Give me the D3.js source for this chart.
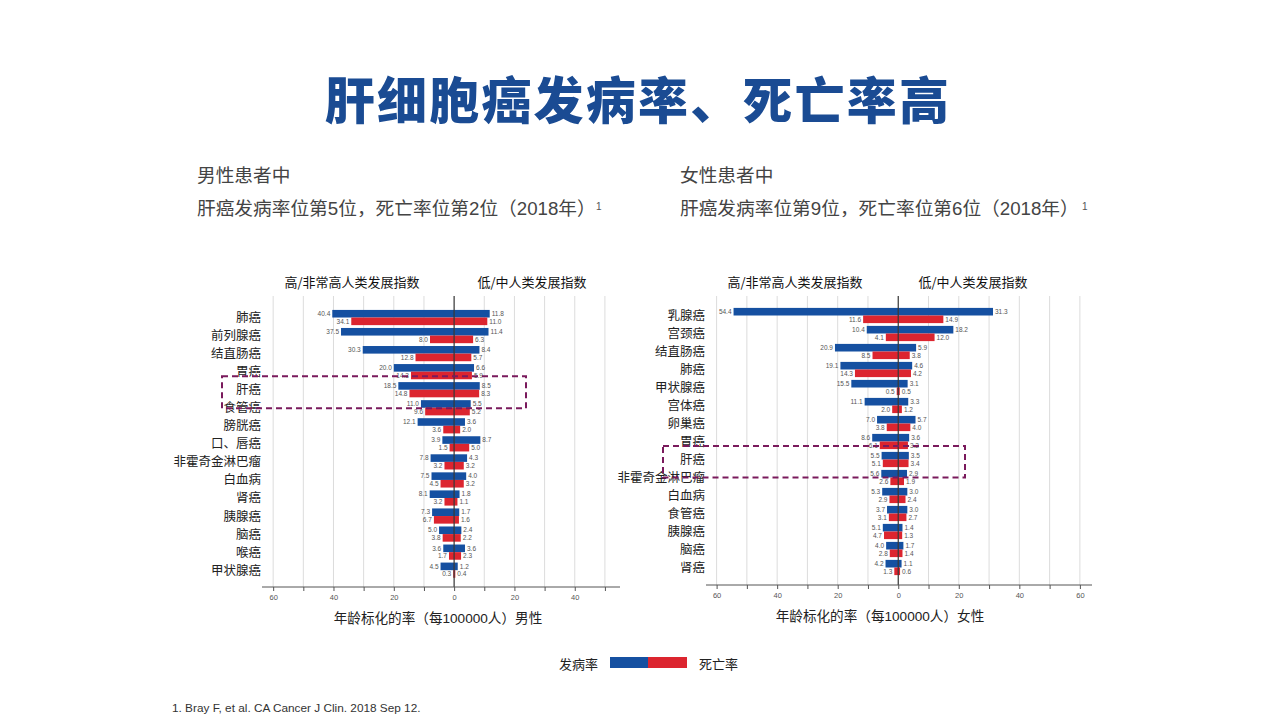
<!DOCTYPE html>
<html><head><meta charset="utf-8">
<script src="https://cdn.jsdelivr.net/npm/d3@7/dist/d3.min.js"></script>
<style>
html,body{margin:0;padding:0;background:#fff;}
svg{display:block;font-family:'Liberation Sans','Noto Sans CJK SC',sans-serif;}
</style></head>
<body><svg id="c" width="1280" height="720"></svg>
<script>
// ---------- data ----------
const maleCategories = ["肺癌","前列腺癌","结直肠癌","胃癌","肝癌","食管癌","膀胱癌","口、唇癌","非霍奇金淋巴瘤","白血病","肾癌","胰腺癌","脑癌","喉癌","甲状腺癌"];
const maleIncHigh  = [40.4,37.5,30.3,20.0,18.5,11.0,12.1,3.9,7.8,7.5,8.1,7.3,5.0,3.6,4.5];
const maleMortHigh = [34.1,8.0,12.8,14.3,14.8,9.6,3.6,1.5,3.2,4.5,3.2,6.7,3.8,1.7,0.3];
const maleIncLow   = [11.8,11.4,8.4,6.6,8.5,5.5,3.6,8.7,4.3,4.0,1.8,1.7,2.4,3.6,1.2];
const maleMortLow  = [11.0,6.3,5.7,5.9,8.3,5.2,2.0,5.0,3.2,3.2,1.1,1.6,2.2,2.3,0.4];

const femaleCategories = ["乳腺癌","宫颈癌","结直肠癌","肺癌","甲状腺癌","宫体癌","卵巢癌","胃癌","肝癌","非霍奇金淋巴瘤","白血病","食管癌","胰腺癌","脑癌","肾癌"];
const femaleIncHigh  = [54.4,10.4,20.9,19.1,15.5,11.1,7.0,8.6,5.5,5.6,5.3,3.7,5.1,4.0,4.2];
const femaleMortHigh = [11.6,4.1,8.5,14.3,0.5,2.0,3.8,6.1,5.1,2.6,2.9,3.1,4.7,2.8,1.3];
const femaleIncLow   = [31.3,18.2,5.9,4.6,3.1,3.3,5.7,3.6,3.5,2.9,3.0,3.0,1.4,1.7,1.1];
const femaleMortLow  = [14.9,12.0,3.8,4.2,0.5,1.2,4.0,3.2,3.4,1.9,2.4,2.7,1.3,1.4,0.6];

const maleTicks = [-60,-50,-40,-30,-20,-10,0,10,20,30,40,50];
const femaleTicks = [-60,-50,-40,-30,-20,-10,0,10,20,30,40,50,60];
const headerLeft = "高/非常高人类发展指数";
const headerRight = "低/中人类发展指数";

const BLUE = "#1550a1", RED = "#dc252f";
const svg = d3.select("#c");

// ---------- title & texts ----------
svg.append("text").attr("x",638).attr("y",119).attr("text-anchor","middle")
  .attr("font-family","'Noto Sans CJK SC'").attr("font-weight",900).attr("font-size",50)
  .attr("letter-spacing",2.2).attr("fill","#1a4b93").text("肝细胞癌发病率、死亡率高");

function subtitle(x, l1, l2, supX){
  svg.append("text").attr("x",x).attr("y",182).attr("font-size",18.7).attr("fill","#444").text(l1);
  svg.append("text").attr("x",x).attr("y",215).attr("font-size",18.7).attr("fill","#444").text(l2);
  svg.append("text").attr("x",supX).attr("y",210).attr("font-size",10).attr("fill","#555").text("1");
}
subtitle(197,"男性患者中","肝癌发病率位第5位，死亡率位第2位（2018年）",596);
subtitle(680,"女性患者中","肝癌发病率位第9位，死亡率位第6位（2018年）",1082);

// ---------- chart ----------
function chart(cfg){
  const g = svg.append("g");
  const x = d3.scaleLinear().domain(cfg.domain).range(cfg.xr);
  const y = d3.scaleBand().domain(cfg.cats).range(cfg.yr).padding(0);
  const bh = 7.6;
  // gridlines
  g.selectAll(".grid").data(cfg.ticks.filter(t=>t!==0)).join("line")
    .attr("x1",d=>x(d)).attr("x2",d=>x(d)).attr("y1",cfg.gridTop).attr("y2",cfg.axisY)
    .attr("stroke","#dcdcdc").attr("stroke-width",1);
  const rows = cfg.cats.map((c,i)=>({c, ih:cfg.ih[i], mh:cfg.mh[i], il:cfg.il[i], ml:cfg.ml[i]}));
  const cy = d=>y(d.c)+y.bandwidth()/2;
  // bars
  g.selectAll(".ih").data(rows).join("rect").attr("x",d=>x(-d.ih)).attr("width",d=>x(0)-x(-d.ih))
    .attr("y",d=>cy(d)-bh).attr("height",bh).attr("fill",BLUE);
  g.selectAll(".il").data(rows).join("rect").attr("x",x(0)).attr("width",d=>x(d.il)-x(0))
    .attr("y",d=>cy(d)-bh).attr("height",bh).attr("fill",BLUE);
  g.selectAll(".mh").data(rows).join("rect").attr("x",d=>x(-d.mh)).attr("width",d=>x(0)-x(-d.mh))
    .attr("y",d=>cy(d)).attr("height",bh).attr("fill",RED);
  g.selectAll(".ml").data(rows).join("rect").attr("x",x(0)).attr("width",d=>x(d.ml)-x(0))
    .attr("y",d=>cy(d)).attr("height",bh).attr("fill",RED);
  // value labels
  const vl = (sel, key, side, dy)=> sel.data(rows).join("text")
    .attr("x",d=> side<0 ? x(-d[key])-2 : x(d[key])+2)
    .attr("y",d=>cy(d)+dy).attr("text-anchor", side<0?"end":"start")
    .attr("font-size",6.5).attr("fill","#555").text(d=>d[key].toFixed(1));
  vl(g.selectAll(".tih"),"ih",-1,-1.6);
  vl(g.selectAll(".til"),"il",1,-1.6);
  vl(g.selectAll(".tmh"),"mh",-1,6);
  vl(g.selectAll(".tml"),"ml",1,6);
  // zero line
  g.append("line").attr("x1",x(0)).attr("x2",x(0)).attr("y1",cfg.gridTop).attr("y2",cfg.axisY)
    .attr("stroke","#333").attr("stroke-width",1.2);
  // category labels
  g.selectAll(".cat").data(cfg.cats).join("text").attr("x",cfg.labelX)
    .attr("y",d=>y(d)+y.bandwidth()/2+4.5).attr("text-anchor","end")
    .attr("font-family","'Noto Sans CJK SC'").attr("font-size",12.5).attr("fill","#222").text(d=>d);
  // axis
  const ax = d3.axisBottom(x).tickValues(cfg.ticks).tickSize(4).tickPadding(4)
    .tickFormat(d=> d%20===0 ? Math.abs(d) : "");
  const axg = g.append("g").attr("transform",`translate(0,${cfg.axisY})`).call(ax);
  axg.select(".domain").attr("stroke","#555").attr("d",`M${cfg.xr[0]},0H${cfg.xr[1]}`);
  axg.selectAll(".tick line").attr("stroke","#555");
  axg.selectAll(".tick text").attr("font-size",7.5).attr("fill","#555")
    .attr("font-family","'Liberation Sans',sans-serif");
  // headers
  g.append("text").attr("x",cfg.hl).attr("y",287).attr("text-anchor","middle")
    .attr("font-family","'Noto Sans CJK SC'").attr("font-size",13).attr("fill","#111").text(headerLeft);
  g.append("text").attr("x",cfg.hr).attr("y",287).attr("text-anchor","middle")
    .attr("font-family","'Noto Sans CJK SC'").attr("font-size",13).attr("fill","#111").text(headerRight);
  // axis title
  g.append("text").attr("x",cfg.titleX).attr("y",cfg.axisY+36).attr("text-anchor","middle")
    .attr("font-size",13.6).attr("fill","#222").text(cfg.axisTitle);
  // highlight box
  const hi = cfg.cats.indexOf("肝癌");
  const hy = y(cfg.cats[hi]);
  g.append("rect").attr("x",cfg.boxX[0]).attr("width",cfg.boxX[1]-cfg.boxX[0])
    .attr("y",hy+cfg.boxDy[0]).attr("height",cfg.boxDy[1]-cfg.boxDy[0])
    .attr("fill","none").attr("stroke","#7a1a5c").attr("stroke-width",2).attr("stroke-dasharray","6,4");
}

chart({cats:maleCategories, ih:maleIncHigh, mh:maleMortHigh, il:maleIncLow, ml:maleMortLow,
  domain:[-63.7,55], xr:[262,620], yr:[308.5,579.2], ticks:maleTicks, gridTop:296, axisY:587,
  labelX:261, hl:352, hr:532, titleX:438, axisTitle:"年龄标化的率（每100000人）男性",
  boxX:[222,526], boxDy:[-4.5,27.5]});
chart({cats:femaleCategories, ih:femaleIncHigh, mh:femaleMortHigh, il:femaleIncLow, ml:femaleMortLow,
  domain:[-63.5,64], xr:[706,1092], yr:[306.5,576.5], ticks:femaleTicks, gridTop:296, axisY:585,
  labelX:705, hl:795, hr:973, titleX:880, axisTitle:"年龄标化的率（每100000人）女性",
  boxX:[663,965], boxDy:[-4.5,27]});

// ---------- legend ----------
svg.append("text").attr("x",598).attr("y",669).attr("text-anchor","end").attr("font-family","'Noto Sans CJK SC'")
  .attr("font-size",13).attr("fill","#222").text("发病率");
svg.append("rect").attr("x",610).attr("y",657).attr("width",38).attr("height",11).attr("fill",BLUE);
svg.append("rect").attr("x",648).attr("y",657).attr("width",39).attr("height",11).attr("fill",RED);
svg.append("text").attr("x",699).attr("y",669).attr("font-family","'Noto Sans CJK SC'")
  .attr("font-size",13).attr("fill","#222").text("死亡率");

// ---------- footnote ----------
svg.append("text").attr("x",172).attr("y",712).attr("font-size",11.8).attr("fill","#333")
  .text("1. Bray F, et al. CA Cancer J Clin. 2018 Sep 12.");
</script></body></html>
